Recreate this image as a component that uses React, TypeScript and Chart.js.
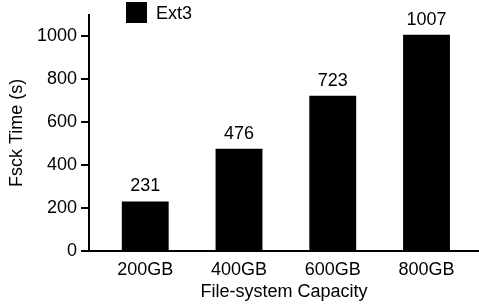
import React, { useEffect, useRef } from 'react';
import { Chart, registerables } from 'chart.js';

Chart.register(...registerables);

const categories = ['200GB', '400GB', '600GB', '800GB'];
const seriesName = 'Ext3';
const fsckTimes = [231, 476, 723, 1007];
const yTickValues = [0, 200, 400, 600, 800, 1000];

const FONT = '"Liberation Sans", Arial, Helvetica, sans-serif';

export default function App() {
  const ref = useRef<HTMLCanvasElement>(null);

  useEffect(() => {
    document.body.style.margin = '0';
    const canvas = ref.current!;

    const valueLabels = {
      id: 'valueLabels',
      afterDatasetsDraw(chart: any) {
        const ctx = chart.ctx;
        const meta = chart.getDatasetMeta(0);
        ctx.save();
        ctx.font = `18px ${FONT}`;
        ctx.fillStyle = '#000';
        ctx.textAlign = 'center';
        ctx.textBaseline = 'alphabetic';
        meta.data.forEach((el: any, i: number) => {
          ctx.fillText(String(fsckTimes[i]), el.x, el.y - 10);
        });
        ctx.restore();
      },
    };

    const customLegend = {
      id: 'customLegend',
      afterDraw(chart: any) {
        const ctx = chart.ctx;
        const ds = chart.data.datasets[0];
        ctx.save();
        ctx.fillStyle = ds.backgroundColor;
        ctx.fillRect(126, 2, 21, 21);
        ctx.font = `18px ${FONT}`;
        ctx.fillStyle = '#000';
        ctx.textAlign = 'left';
        ctx.textBaseline = 'middle';
        ctx.fillText(ds.label, 156, 14);
        ctx.restore();
      },
    };

    const chart = new Chart(canvas, {
      type: 'bar',
      data: {
        datasets: [
          {
            label: seriesName,
            data: fsckTimes.map((v, i) => ({ x: i, y: v })),
            backgroundColor: '#000',
            borderWidth: 0,
            categoryPercentage: 1,
            barPercentage: 0.5,
          },
        ],
      },
      options: {
        animation: false,
        responsive: false,
        layout: { padding: { top: 13, right: 0, left: 0, bottom: 0 } },
        plugins: {
          legend: { display: false },
          tooltip: { enabled: false },
        },
        scales: {
          x: {
            type: 'linear',
            min: -0.6,
            max: 3.56,
            offset: false,
            grid: { display: false, drawTicks: false },
            border: { display: true, color: '#000', width: 2 },
            afterBuildTicks: (s: any) => {
              s.ticks = categories.map((_, i) => ({ value: i }));
            },
            ticks: {
              autoSkip: false,
              maxRotation: 0,
              padding: 8,
              color: '#000',
              font: { family: FONT, size: 18 },
              callback: (v: any) => categories[v] ?? '',
            },
            title: {
              display: true,
              text: 'File-system Capacity',
              color: '#000',
              font: { family: FONT, size: 18 },
              padding: { top: 0, bottom: 5 },
            },
            afterFit: (s: any) => {
              s.height = 57;
            },
          },
          y: {
            min: 0,
            max: 1100,
            afterBuildTicks: (s: any) => {
              s.ticks = yTickValues.map((v) => ({ value: v }));
            },
            grid: {
              display: true,
              drawOnChartArea: false,
              drawTicks: true,
              tickLength: 8,
              color: '#000',
              lineWidth: 2,
            },
            border: { display: true, color: '#000', width: 2 },
            ticks: {
              padding: 4,
              color: '#000',
              font: { family: FONT, size: 18 },
              callback: (v: any) => String(v),
            },
            title: {
              display: true,
              text: 'Fsck Time (s)',
              color: '#000',
              font: { family: FONT, size: 18 },
              padding: { top: 6, bottom: 0 },
            },
            afterFit: (s: any) => {
              s.width = 89;
            },
          },
        },
      } as any,
      plugins: [valueLabels, customLegend],
    });

    return () => chart.destroy();
  }, []);

  return (
    <div style={{ position: 'absolute', left: 0, top: 0, width: 479, height: 308 }}>
      <canvas ref={ref} width={479} height={308} />
    </div>
  );
}
